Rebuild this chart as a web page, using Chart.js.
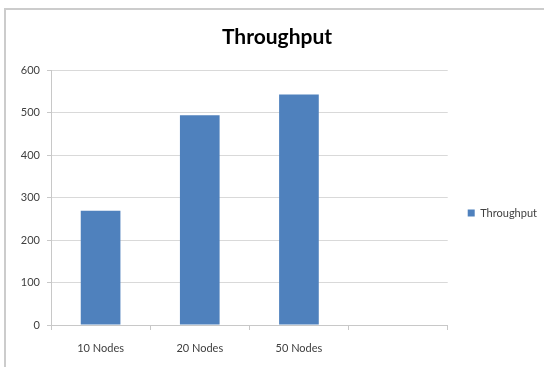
<!DOCTYPE html>
<html>
<head>
<meta charset="utf-8">
<script src="https://cdn.jsdelivr.net/npm/chart.js@4/dist/chart.umd.min.js"></script>
<style>
  html, body { margin: 0; padding: 0; background: #ffffff; }
  body { width: 544px; height: 367px; position: relative; overflow: hidden; }
  #frame {
    position: absolute; left: 4px; top: 8px; width: 620px; height: 420px;
    border: 2px solid #cccccc; box-sizing: border-box;
  }
  #wrap { position: absolute; left: 0; top: 0; width: 544px; height: 367px; }
</style>
</head>
<body>
<div id="frame"></div>
<div id="wrap"><canvas id="chart" width="544" height="367"></canvas></div>
<script>
// Chart content
const categories = ['10 Nodes', '20 Nodes', '50 Nodes', ''];
const throughput = [269, 494, 543, null];
const seriesName = 'Throughput';
const yTicks = [0, 100, 200, 300, 400, 500, 600];

const FONT = 'Lato, "Open Sans", "Liberation Sans", sans-serif';

// moves the legend block down and slightly right inside its area
const legendShift = {
  id: 'legendShift',
  afterLayout(chart) {
    const lg = chart.legend;
    if (lg) {
      lg.top += 25; lg.bottom += 25;
      lg.left += 8; lg.right += 8;
    }
  }
};

new Chart(document.getElementById('chart'), {
  type: 'bar',
  data: {
    labels: categories,
    datasets: [{
      label: seriesName,
      data: throughput,
      backgroundColor: '#4f81bd',
      borderWidth: 0,
      categoryPercentage: 1.0,
      barPercentage: 0.4
    }]
  },
  plugins: [legendShift],
  options: {
    responsive: false,
    animation: false,
    devicePixelRatio: 1,
    layout: { padding: { top: 9, left: 15, right: 5, bottom: 0 } },
    plugins: {
      title: {
        display: true,
        text: 'Throughput',
        color: '#000000',
        font: { family: FONT, size: 21, weight: 'bold' },
        padding: { top: 16, bottom: 20 }
      },
      legend: {
        display: true,
        position: 'right',
        align: 'center',
        labels: {
          boxWidth: 7,
          boxHeight: 7,
          padding: 12,
          color: '#404040',
          font: { family: FONT, size: 11 }
        }
      },
      tooltip: { enabled: false }
    },
    scales: {
      x: {
        offset: true,
        grid: {
          display: true,
          offset: true,
          drawOnChartArea: false,
          drawTicks: true,
          tickLength: 5,
          color: '#c8c8c8'
        },
        border: { display: true, color: '#c8c8c8', width: 1 },
        ticks: {
          color: '#404040',
          padding: 12,
          maxRotation: 0,
          font: { family: FONT, size: 11 }
        },
        afterFit(scale) { scale.height = 42; }
      },
      y: {
        min: 0,
        max: 600,
        afterBuildTicks(scale) { scale.ticks = yTicks.map(v => ({ value: v })); },
        grid: {
          color: '#d9d9d9',
          drawTicks: true,
          tickLength: 4,
          tickColor: '#c8c8c8'
        },
        border: { display: true, color: '#c8c8c8', width: 1 },
        ticks: {
          color: '#404040',
          padding: 7,
          font: { family: FONT, size: 11 }
        },
        afterFit(scale) { scale.width = 36; }
      }
    }
  }
});
</script>
</body>
</html>
